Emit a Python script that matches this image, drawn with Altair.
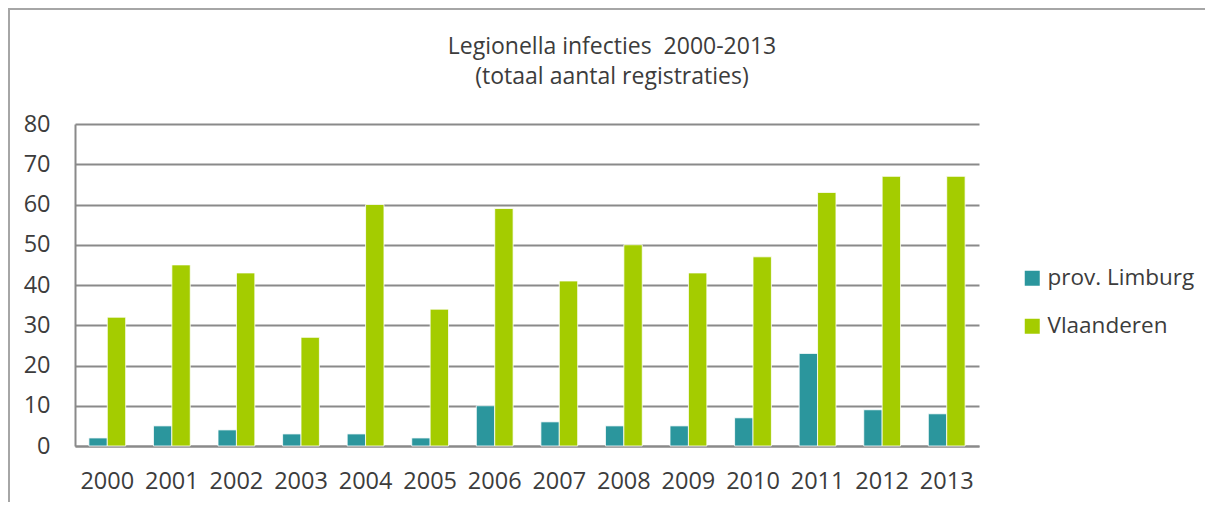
import altair as alt
import pandas as pd

years = [str(y) for y in range(2000, 2014)]
limburg = [2, 5, 4, 3, 3, 2, 10, 6, 5, 5, 7, 23, 9, 8]
vlaanderen = [32, 45, 43, 27, 60, 34, 59, 41, 50, 43, 47, 63, 67, 67]
series = ["prov. Limburg", "Vlaanderen"]
colors = ["#2B969D", "#A4CC00"]
title_lines = ["Legionella infecties\u00a0 2000-2013", "(totaal aantal registraties)"]
y_ticks = [0, 10, 20, 30, 40, 50, 60, 70, 80]

rows = []
for i, yr in enumerate(years):
    rows.append({"jaar": yr, "reeks": series[0], "aantal": limburg[i]})
    rows.append({"jaar": yr, "reeks": series[1], "aantal": vlaanderen[i]})
df = pd.DataFrame(rows)

W, H = 904, 322
FONT = "Open Sans"
TXT = "#3c3c3c"
GRID = "#8a8a8a"

bars = alt.Chart(df).mark_bar(stroke="white", strokeWidth=0.8).encode(
    x=alt.X(
        "jaar:N",
        sort=years,
        scale=alt.Scale(paddingInner=0.43, paddingOuter=0.215),
        axis=alt.Axis(
            title=None, labelAngle=0, ticks=False, tickSize=0, labelPadding=23,
            labelFontSize=23.5, labelColor=TXT, labelFont=FONT,
            domainColor=GRID, domainWidth=2, grid=False,
        ),
    ),
    xOffset=alt.XOffset("reeks:N", sort=series, scale=alt.Scale(paddingInner=0, paddingOuter=0)),
    y=alt.Y(
        "aantal:Q",
        scale=alt.Scale(domain=[0, 80], nice=False),
        axis=alt.Axis(
            title=None, values=y_ticks, ticks=False, tickSize=0, labelPadding=25,
            labelFontSize=23.5, labelColor=TXT, labelFont=FONT,
            domainColor=GRID, domainWidth=2, gridColor=GRID, gridWidth=2,
        ),
    ),
    color=alt.Color(
        "reeks:N",
        sort=series,
        scale=alt.Scale(domain=series, range=colors),
        legend=alt.Legend(
            title=None, orient="none", legendX=946, legendY=143,
            symbolType="square", symbolSize=225, symbolStrokeWidth=0,
            labelFontSize=22.5, labelFont=FONT, labelColor=TXT, labelOffset=4,
            rowPadding=25,
        ),
    ),
)

frame = alt.Chart(pd.DataFrame({"k": [0]})).mark_rect(
    fill="transparent", stroke="#a6a6a6", strokeWidth=2
).encode(
    x=alt.value(-66), x2=alt.value(W + 400), y=alt.value(-115), y2=alt.value(H + 300)
)

title = alt.Chart(pd.DataFrame({"k": [0]})).mark_text(
    text=title_lines, font=FONT, fontSize=23, lineHeight=30, color=TXT,
    align="center", baseline="alphabetic",
).encode(x=alt.value(537), y=alt.value(-70))

chart = alt.layer(frame, title, bars).properties(
    width=W,
    height=H,
    autosize=alt.AutoSizeParams(type="none"),
    padding={"left": 67, "top": 116, "right": 226, "bottom": 56},
).configure_view(stroke=None)

chart.save("out.html", embed_options={"renderer": "svg", "actions": False})
